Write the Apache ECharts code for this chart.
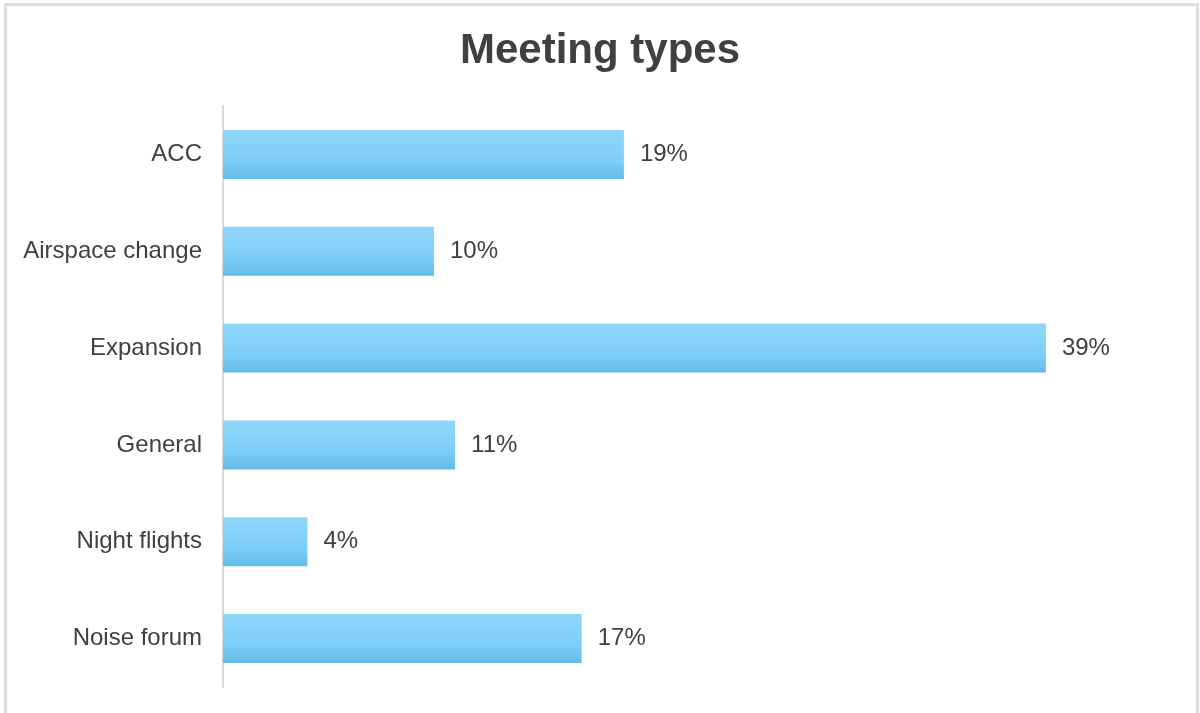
<!DOCTYPE html>
<html>
<head>
<meta charset="utf-8">
<script src="https://cdn.jsdelivr.net/npm/echarts@6/dist/echarts.min.js"></script>
<style>
  html, body { margin: 0; padding: 0; background: #fff; }
  #chart { width: 1200px; height: 713px; }
</style>
</head>
<body>
<div id="chart"></div>
<script>
// Meeting types, share of all meetings (%)
const categories = ['ACC', 'Airspace change', 'Expansion', 'General', 'Night flights', 'Noise forum'];
const shares = [19, 10, 39, 11, 4, 17];

const FONT = '"Liberation Sans", Arial, sans-serif';

const chart = echarts.init(document.getElementById('chart'), null, { renderer: 'canvas' });

const barFill = new echarts.graphic.LinearGradient(0, 0, 0, 1, [
  { offset: 0, color: '#90d6fa' },
  { offset: 0.65, color: '#7acef8' },
  { offset: 1, color: '#63bbe5' }
]);

chart.setOption({
  animation: false,
  backgroundColor: '#ffffff',
  title: {
    text: 'Meeting types',
    left: 'center',
    top: 25,
    textStyle: {
      fontFamily: FONT,
      fontSize: 42,
      fontWeight: 'bold',
      color: '#404040'
    }
  },
  graphic: [{
    type: 'rect',
    silent: true,
    shape: { x: 5.5, y: 4.5, width: 1192, height: 730 },
    style: { fill: 'none', stroke: '#dedede', lineWidth: 3 }
  }],
  grid: { left: 223, right: 133, top: 106, bottom: 26, containLabel: false },
  xAxis: {
    type: 'value',
    min: 0,
    max: 40,
    show: false
  },
  yAxis: {
    type: 'category',
    data: categories,
    inverse: true,
    axisLine: { show: true, lineStyle: { color: '#d9d9d9', width: 2 } },
    axisTick: { show: false },
    axisLabel: {
      margin: 21,
      fontFamily: FONT,
      fontSize: 24,
      color: '#404040',
      padding: [8, 0, 0, 0]
    },
    splitLine: { show: false }
  },
  series: [{
    type: 'bar',
    data: shares,
    barWidth: 49,
    itemStyle: { color: barFill },
    label: {
      show: true,
      position: 'right',
      distance: 16,
      formatter: '{c}%',
      fontFamily: FONT,
      fontSize: 24,
      color: '#404040',
      padding: [8, 0, 0, 0]
    }
  }]
});
</script>
</body>
</html>
